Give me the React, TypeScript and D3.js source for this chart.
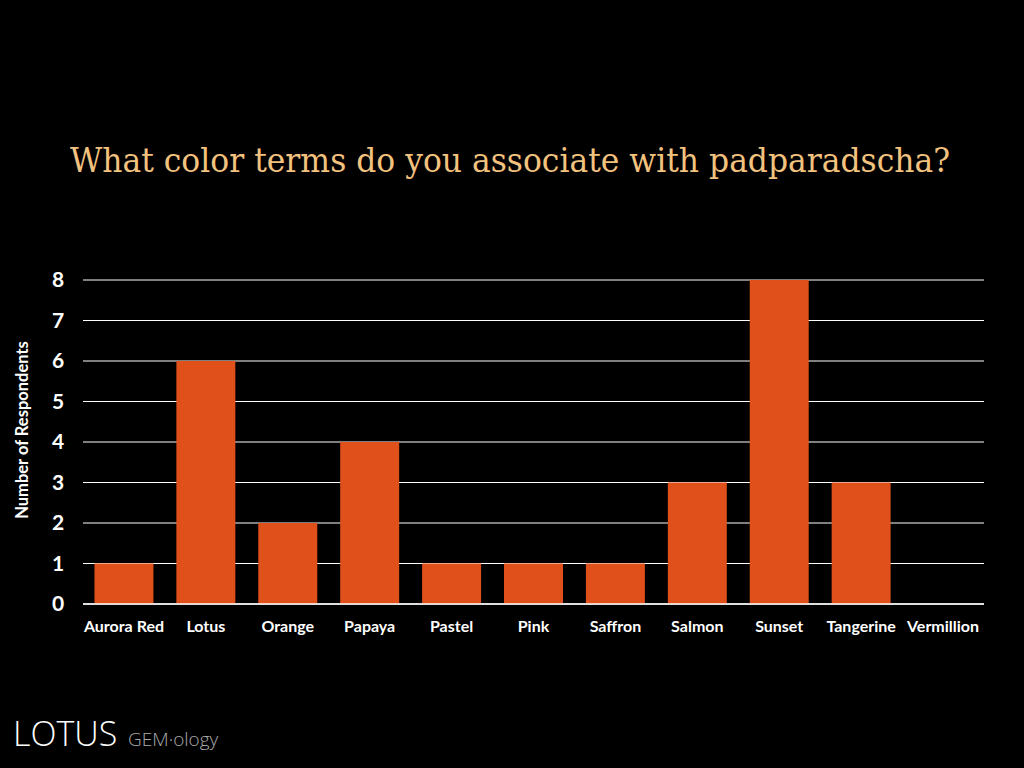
import React from "react";
import * as d3 from "d3";

const categories = ["Aurora Red", "Lotus", "Orange", "Papaya", "Pastel", "Pink", "Saffron", "Salmon", "Sunset", "Tangerine", "Vermillion"];
const values = [1, 6, 2, 4, 1, 1, 1, 3, 8, 3, 0];
const yTicks = [0, 1, 2, 3, 4, 5, 6, 7, 8];
const title = "What color terms do you associate with padparadscha?";
const yLabel = "Number of Respondents";

export default function App() {
  const W = 1024, H = 768;
  const left = 83, right = 984, top = 280, bottom = 604;
  const x = d3.scaleBand<string>().domain(categories).range([left, right]).paddingInner(0.28).paddingOuter(0.14);
  const y = d3.scaleLinear().domain([0, 8]).range([bottom, top]);
  return (
    <svg width={W} height={H} style={{ position: "absolute", left: 0, top: 0, background: "#000" }}>
      <rect x={0} y={0} width={W} height={H} fill="#000" />
      <text x={510} y={172} textAnchor="middle" fill="#f2c27e" fontFamily="'DejaVu Serif', serif" fontSize={33} textLength={880} lengthAdjust="spacingAndGlyphs">{title}</text>
      {yTicks.map(t => (
        <g key={t}>
          <line x1={left} x2={right} y1={y(t)} y2={y(t)} stroke="#fff" strokeWidth={1} />
          <text x={58} y={y(t) + 7} textAnchor="middle" fill="#fff" fontFamily="Lato, sans-serif" fontWeight="bold" fontSize={21}>{t}</text>
        </g>
      ))}
      {categories.map((c, i) => (
        values[i] > 0 ? <rect key={c} x={x(c)} y={y(values[i])} width={x.bandwidth()} height={y(0) - y(values[i])} fill="#e0501a" /> : null
      ))}
      <line x1={left} x2={right} y1={y(0)} y2={y(0)} stroke="#fff" strokeWidth={1.5} />
      {categories.map(c => (
        <text key={c} x={(x(c) as number) + x.bandwidth() / 2} y={632} textAnchor="middle" fill="#fff" fontFamily="Lato, sans-serif" fontWeight="bold" fontSize={16}>{c}</text>
      ))}
      <text transform={`translate(28,430) rotate(-90)`} textAnchor="middle" fill="#fff" fontFamily="Lato, sans-serif" fontWeight="bold" fontSize={16.5}>{yLabel}</text>
      <text x={13} y={746} fill="#fff" fontFamily="'Open Sans', sans-serif" fontWeight={300} fontSize={34}>LOTUS</text>
      <text x={128} y={746} fill="#aaa" fontFamily="'Open Sans', sans-serif" fontWeight={300} fontSize={19}>GEM·ology</text>
    </svg>
  );
}
